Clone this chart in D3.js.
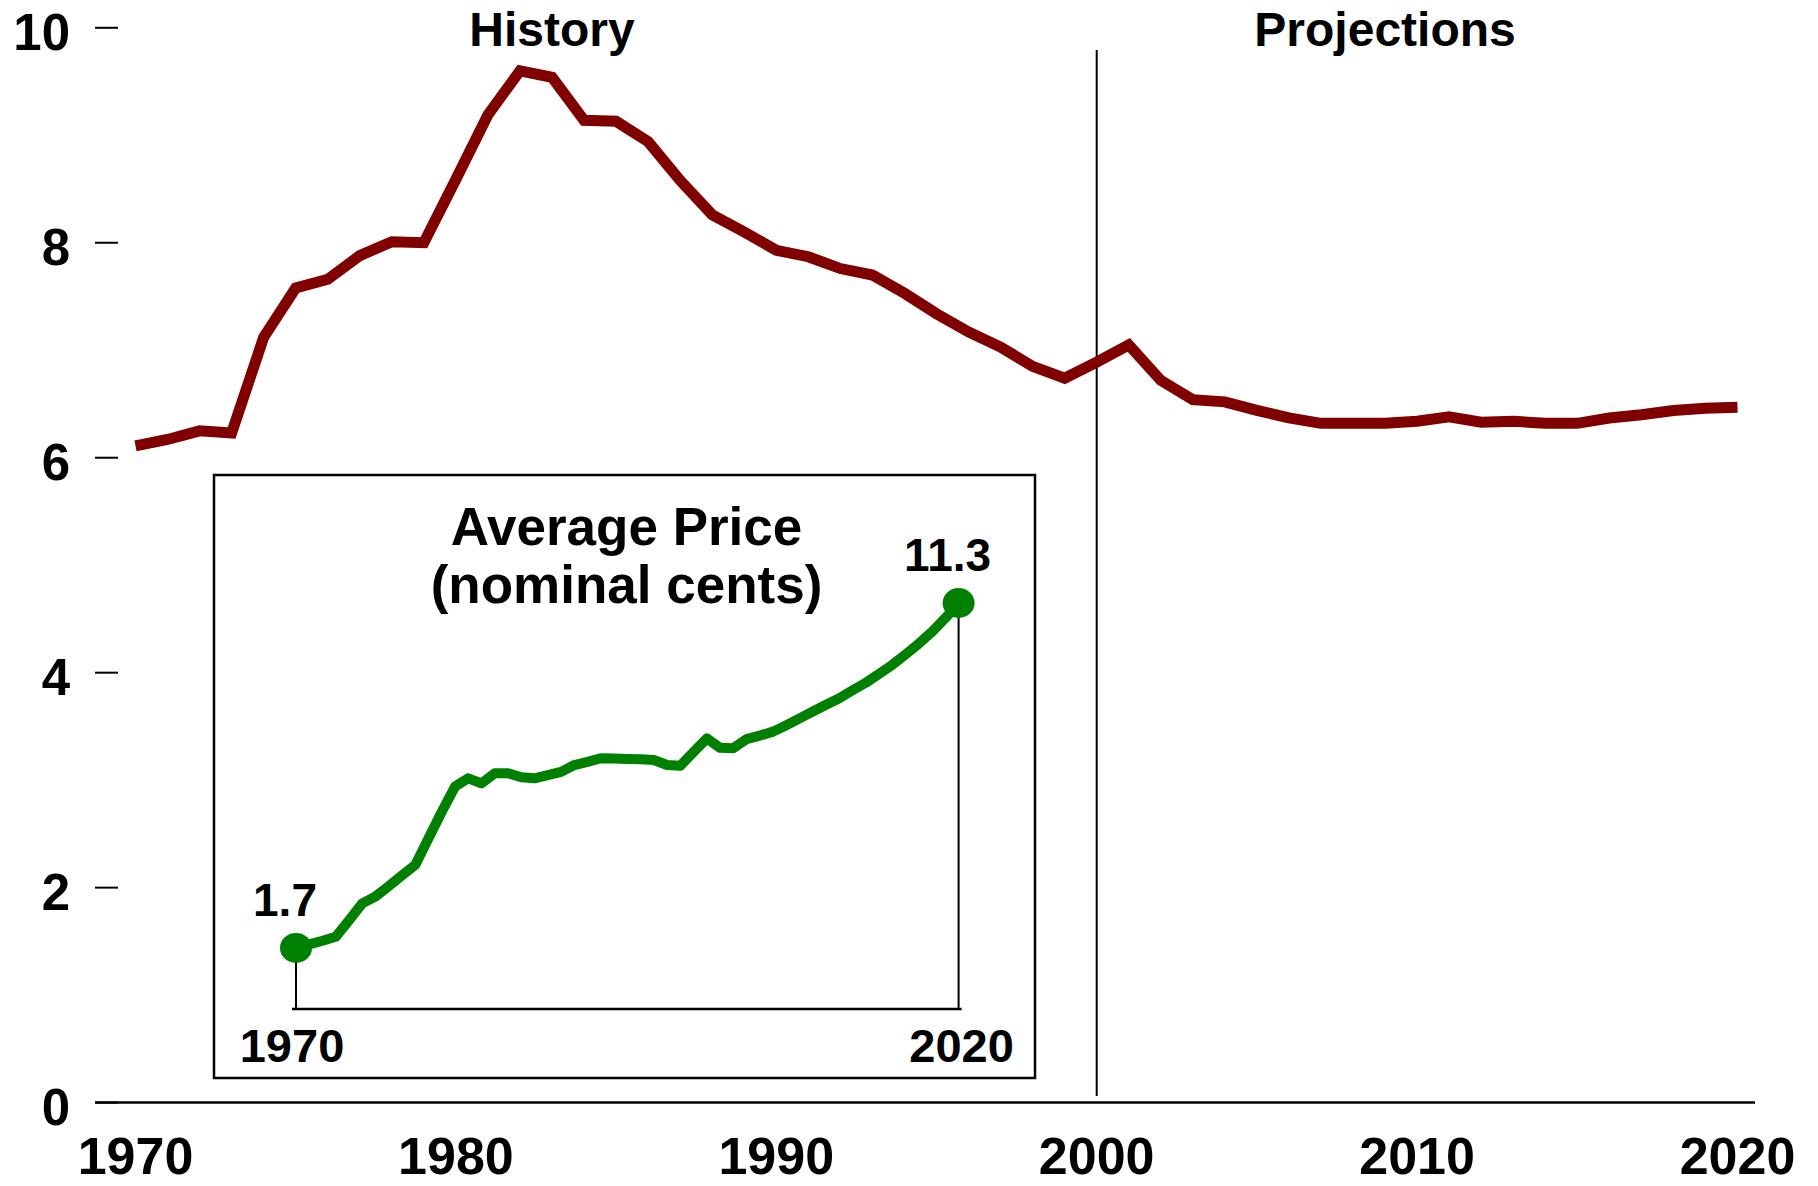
<!DOCTYPE html>
<html>
<head>
<meta charset="utf-8">
<script src="https://cdn.jsdelivr.net/npm/d3@7"></script>
<style>
  body { margin: 0; background: #fff; }
  svg { display: block; font-family: "Liberation Sans", Arial, sans-serif; font-weight: bold; }
</style>
</head>
<body>
<svg id="chart"></svg>
<script>
const years = d3.range(1970, 2021)

// real price, main chart
const realPrice = [
  6.11, 6.17, 6.25, 6.23, 7.12, 7.58, 7.66, 7.88, 8.01, 8.00,
  8.59, 9.19, 9.60, 9.54, 9.14, 9.13, 8.94, 8.58, 8.26, 8.10,
  7.93, 7.87, 7.76, 7.70, 7.53, 7.34, 7.17, 7.03, 6.85, 6.74,
  6.89, 7.05, 6.72, 6.54, 6.52, 6.44, 6.37, 6.32, 6.32, 6.32,
  6.34, 6.38, 6.33, 6.34, 6.32, 6.32, 6.37, 6.40, 6.44, 6.46,
  6.47
]

// nominal price, inset
const nominalPrice = [
  1.70, 1.80, 1.90, 2.01, 2.47, 2.94, 3.13, 3.42, 3.72, 4.01,
  4.75, 5.49, 6.19, 6.42, 6.28, 6.56, 6.56, 6.45, 6.42, 6.51,
  6.60, 6.79, 6.88, 6.98, 6.97, 6.96, 6.95, 6.93, 6.79, 6.77,
  7.15, 7.53, 7.27, 7.26, 7.51, 7.61, 7.72, 7.90, 8.09, 8.28,
  8.47, 8.65, 8.87, 9.08, 9.33, 9.58, 9.87, 10.17, 10.50, 10.88,
  11.30
]

const xTicks = [1970, 1980, 1990, 2000, 2010, 2020]
const yTicks = [0, 2, 4, 6, 8, 10]
const periodLabels = [{year: 1983, text: "History"}, {year: 2009, text: "Projections"}]
const insetTitle = ["Average Price", "(nominal cents)"]
const insetEnds = [1970, 2020]

const width = 1818
const height = 1186

const svg = d3.select("#chart")
    .attr("width", width)
    .attr("height", height)
    .attr("viewBox", [0, 0, width, height])

const x = d3.scaleLinear()
    .domain([1970, 2020])
    .range([135.5, 1737.5])

const y = d3.scaleLinear()
    .domain([0, 10])
    .range([1102.6, 27.8])

// y axis: short ticks on the left, labels further out
const yAxis = svg.append("g")
yAxis.selectAll("line")
    .data(yTicks)
    .join("line")
    .attr("x1", 95).attr("x2", 118)
    .attr("y1", d => y(d)).attr("y2", d => y(d))
    .attr("stroke", "black")
    .attr("stroke-width", 2)
yAxis.selectAll("text")
    .data(yTicks)
    .join("text")
    .attr("x", 70)
    .attr("y", d => y(d) + 22)
    .attr("text-anchor", "end")
    .attr("font-size", 51)
    .text(d => d)

// baseline
svg.append("line")
    .attr("x1", 95).attr("x2", 1755)
    .attr("y1", y(0)).attr("y2", y(0))
    .attr("stroke", "black")
    .attr("stroke-width", 2.5)

svg.append("g")
    .selectAll("text")
    .data(xTicks)
    .join("text")
    .attr("x", d => x(d))
    .attr("y", 1174)
    .attr("text-anchor", "middle")
    .attr("font-size", 52)
    .text(d => d)

// history / projections split
svg.append("line")
    .attr("x1", x(2000)).attr("x2", x(2000))
    .attr("y1", 50).attr("y2", 1096)
    .attr("stroke", "black")
    .attr("stroke-width", 2)

svg.append("g")
    .selectAll("text")
    .data(periodLabels)
    .join("text")
    .attr("x", d => x(d.year))
    .attr("y", 46)
    .attr("text-anchor", "middle")
    .attr("font-size", 48)
    .text(d => d.text)

const mainLine = d3.line()
    .x((d, i) => x(years[i]))
    .y(d => y(d))

svg.append("path")
    .attr("d", mainLine(realPrice))
    .attr("fill", "none")
    .attr("stroke", "#800000")
    .attr("stroke-width", 11)

// ---- inset ----
svg.append("rect")
    .attr("x", 214).attr("y", 475)
    .attr("width", 821).attr("height", 603)
    .attr("fill", "white")
    .attr("stroke", "black")
    .attr("stroke-width", 2.5)

const ix = d3.scaleLinear()
    .domain([1970, 2020])
    .range([296, 958.6])

const iy = d3.scaleLinear()
    .domain([0, 11.3])
    .range([1009, 603])

svg.append("line")
    .attr("x1", ix(1970) - 4).attr("x2", ix(2020) + 3)
    .attr("y1", iy(0)).attr("y2", iy(0))
    .attr("stroke", "black")
    .attr("stroke-width", 2.5)

const ends = insetEnds.map(yr => ({year: yr, value: nominalPrice[years.indexOf(yr)]}))

svg.append("g")
    .selectAll("line")
    .data(ends)
    .join("line")
    .attr("x1", d => ix(d.year)).attr("x2", d => ix(d.year))
    .attr("y1", d => iy(d.value)).attr("y2", iy(0))
    .attr("stroke", "black")
    .attr("stroke-width", 2)

const insetLine = d3.line()
    .x((d, i) => ix(years[i]))
    .y(d => iy(d))

svg.append("path")
    .attr("d", insetLine(nominalPrice))
    .attr("fill", "none")
    .attr("stroke", "#008000")
    .attr("stroke-width", 10)
    .attr("stroke-linejoin", "round")

svg.append("g")
    .selectAll("ellipse")
    .data(ends)
    .join("ellipse")
    .attr("cx", d => ix(d.year))
    .attr("cy", d => iy(d.value))
    .attr("rx", 16)
    .attr("ry", 15)
    .attr("fill", "#008000")

// value labels above the end dots
svg.append("g")
    .selectAll("text")
    .data(ends)
    .join("text")
    .attr("x", d => ix(d.year) - 11)
    .attr("y", d => iy(d.value) - 32)
    .attr("text-anchor", "middle")
    .attr("font-size", 46)
    .text(d => d.value.toFixed(1))

// year labels under the inset baseline
svg.append("g")
    .selectAll("text")
    .data(ends)
    .join("text")
    .attr("x", (d, i) => ix(d.year) + (i === 0 ? -4 : 3))
    .attr("y", 1062)
    .attr("text-anchor", "middle")
    .attr("font-size", 47)
    .text(d => d.year)

svg.append("g")
    .selectAll("text")
    .data(insetTitle)
    .join("text")
    .attr("x", 626.5)
    .attr("y", (d, i) => 545 + i * 58)
    .attr("text-anchor", "middle")
    .attr("font-size", 53)
    .text(d => d)
</script>
</body>
</html>
